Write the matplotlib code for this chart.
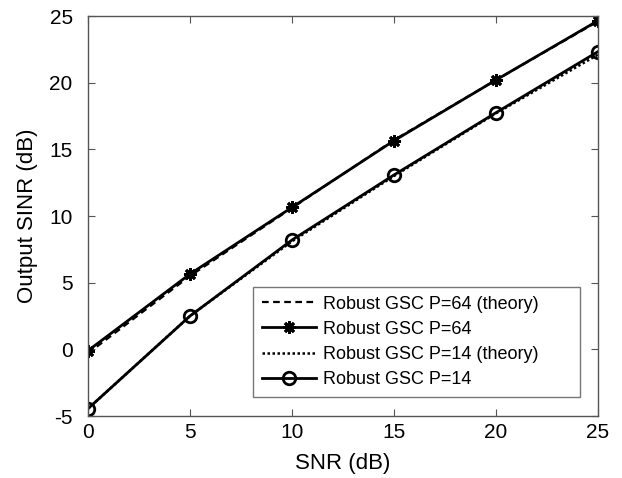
import matplotlib
matplotlib.use("Agg")
import matplotlib.pyplot as plt

snr = [0, 5, 10, 15, 20, 25]
p64_theory = [-0.3, 5.5, 10.6, 15.7, 20.2, 24.6]
p64_sim = [-0.1, 5.65, 10.65, 15.65, 20.2, 24.65]
p14_theory = [-4.45, 2.5, 8.1, 13.0, 17.7, 22.1]
p14_sim = [-4.45, 2.5, 8.2, 13.08, 17.75, 22.33]

labels = ["Robust GSC P=64 (theory)", "Robust GSC P=64",
          "Robust GSC P=14 (theory)", "Robust GSC P=14"]
xticks = [0, 5, 10, 15, 20, 25]
yticks = [-5, 0, 5, 10, 15, 20, 25]

plt.rcParams['font.family'] = ['Liberation Sans', 'DejaVu Sans']
plt.rcParams['axes.unicode_minus'] = False

fig = plt.figure(figsize=(6.22, 4.78), dpi=100)
x0, x1, y0, y1 = 88 / 622, 598 / 622, 1 - 416 / 478, 1 - 16 / 478
ax = fig.add_axes([x0, y0, x1 - x0, y1 - y0])

ax.plot(snr, p64_theory, color='black', linestyle=(0, (3, 2)), linewidth=1.6, label=labels[0])
ax.plot(snr, p64_sim, color='black', linestyle='-', linewidth=2.0, marker=(8, 2, 0),
        markersize=9, markeredgewidth=2.0, label=labels[1])
ax.plot(snr, p14_theory, color='black', linestyle=(0, (1, 1)), linewidth=1.8, label=labels[2])
ax.plot(snr, p14_sim, color='black', linestyle='-', linewidth=2.0, marker='o',
        markersize=9, markerfacecolor='none', markeredgewidth=2.0, label=labels[3])

ax.set_xlim(0, 25)
ax.set_ylim(-5, 25)
ax.set_xticks(xticks)
ax.set_yticks(yticks)
ax.set_xticklabels([str(v) for v in xticks])
ax.set_yticklabels([str(v) for v in yticks])
ax.tick_params(direction='in', top=True, right=True, labelsize=15, length=5,
               color='#555555')
ax.tick_params(axis='y', pad=11)
ax.tick_params(axis='x', pad=5)
for s in ax.spines.values():
    s.set_color('#555555')
    s.set_linewidth(1.0)
ax.set_xlabel('SNR (dB)', fontsize=16, labelpad=8)
ax.set_ylabel('Output SINR (dB)', fontsize=16, labelpad=8)

ax_w, ax_h = 510, 400
leg = ax.legend(loc='lower left',
                bbox_to_anchor=((253 - 88) / ax_w, (416 - 397) / ax_h, 327 / ax_w, 111 / ax_h),
                mode='expand',
                fontsize=13, frameon=True, fancybox=False,
                edgecolor='#555555', handlelength=3.0, handletextpad=0.35,
                borderaxespad=0.0, labelspacing=0.45, borderpad=0.5)
leg.get_frame().set_linewidth(1.0)

fig.savefig('out.png', dpi=100)
